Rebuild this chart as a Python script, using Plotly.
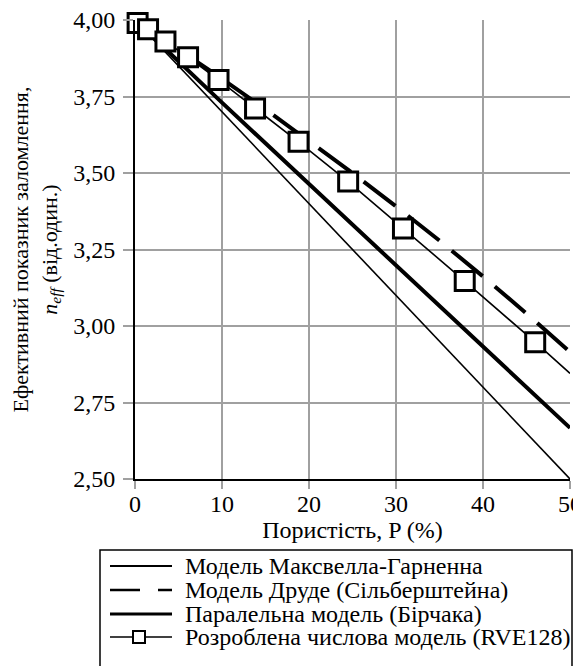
import plotly.graph_objects as go

# Porosity grid for model curves (%)
P = [0, 5, 10, 15, 20, 25, 30, 35, 40, 45, 50]
# Model curves
maxwell_garnett = [4.00, 3.85, 3.70, 3.55, 3.40, 3.25, 3.10, 2.95, 2.80, 2.65, 2.50]
drude = [4.00, 3.905, 3.808, 3.708, 3.606, 3.50, 3.391, 3.279, 3.162, 3.041, 2.915]
parallel = [4.00, 3.864, 3.730, 3.597, 3.464, 3.332, 3.200, 3.068, 2.935, 2.802, 2.667]

# Numerical model RVE128 (points)
P_rve = [0.3, 1.5, 3.5, 6.1, 9.6, 13.8, 18.8, 24.5, 30.8, 37.9, 46.0, 50.0]
n_rve = [3.99, 3.97, 3.93, 3.878, 3.804, 3.711, 3.602, 3.472, 3.319, 3.147, 2.947, 2.845]
rve_marker_size = [19] * 11 + [0]

names = [
    "Модель Максвелла-Гарненна",
    "Модель Друде (Сільберштейна)",
    "Паралельна модель (Бірчака)",
    "Розроблена числова модель (RVE128)",
]

x_ticks = [0, 10, 20, 30, 40, 50]
y_ticks = [2.50, 2.75, 3.00, 3.25, 3.50, 3.75, 4.00]

FONT = "Liberation Serif"
FS = 24

# figure is placed by the page with an 8px body margin
W, H = 573, 658
ML, MR, MT, MB = 127, 11, 12, 187
PW, PH = W - ML - MR, H - MT - MB


def px_x(fx):
    return (fx - ML) / PW


def px_y(fy):
    return (H - MB - fy) / PH


fig = go.Figure()
fig.add_trace(go.Scatter(x=P, y=maxwell_garnett, mode="lines", name=names[0],
                         line=dict(color="black", width=1.6)))
fig.add_trace(go.Scatter(x=P, y=drude, mode="lines", name=names[1],
                         line=dict(color="black", width=4, dash="40px,16px")))
fig.add_trace(go.Scatter(x=P, y=parallel, mode="lines", name=names[2],
                         line=dict(color="black", width=4)))
fig.add_trace(go.Scatter(x=P_rve, y=n_rve, mode="lines+markers", name=names[3],
                         cliponaxis=False,
                         line=dict(color="black", width=1.6),
                         marker=dict(symbol="square", size=rve_marker_size, color="white",
                                     opacity=1, line=dict(color="black", width=3))))

# ---- hand-made legend box (compact rows, as in the reference) ----
shapes = []
annotations = []
box_l, box_r, box_t, box_b = 92, 564, 542, 672
shapes.append(dict(type="rect", xref="paper", yref="paper",
                   x0=px_x(box_l), x1=px_x(box_r), y0=px_y(box_b), y1=px_y(box_t),
                   line=dict(color="black", width=1.5), fillcolor="white", layer="above"))
rows = [558, 582, 606, 629]
samp_l, samp_r = 102, 164
styles = [dict(width=1.8), dict(width=2.5, dash="30px,18px"), dict(width=2.8), dict(width=1.6)]
for i, (ry, st) in enumerate(zip(rows, styles)):
    shapes.append(dict(type="line", xref="paper", yref="paper",
                       x0=px_x(samp_l), x1=px_x(samp_r), y0=px_y(ry), y1=px_y(ry),
                       line=dict(color="black", **st), layer="above"))
    annotations.append(dict(xref="paper", yref="paper", x=px_x(175), y=px_y(ry),
                            xanchor="left", yanchor="middle", showarrow=False,
                            text=names[i], font=dict(family=FONT, size=FS, color="black")))
sq_c, sq_h = 131, 6
shapes.append(dict(type="rect", xref="paper", yref="paper",
                   x0=px_x(sq_c - sq_h), x1=px_x(sq_c + sq_h),
                   y0=px_y(rows[3] + sq_h), y1=px_y(rows[3] - sq_h),
                   line=dict(color="black", width=2), fillcolor="white", layer="above"))

fig.update_layout(
    width=W, height=H,
    margin=dict(l=ML, r=MR, t=MT, b=MB),
    paper_bgcolor="white", plot_bgcolor="white",
    separators=",.",
    font=dict(family=FONT, size=FS, color="black"),
    showlegend=False,
    shapes=shapes,
    annotations=annotations,
)
fig.update_xaxes(
    range=[0, 50], tickvals=x_ticks, ticktext=[str(v) for v in x_ticks],
    showgrid=True, gridcolor="#a0a0a0", gridwidth=1.5,
    showline=True, linecolor="black", linewidth=2,
    ticks="outside", ticklen=8, tickcolor="#a0a0a0", tickwidth=1.5,
    zeroline=False, automargin=False, ticklabeloverflow="allow", ticklabelstandoff=-6,
    tickfont=dict(family=FONT, size=FS),
    title=dict(text="Пористість, P (%)", font=dict(family=FONT, size=FS), standoff=4),
)
fig.update_yaxes(
    range=[2.5, 4.0], tickvals=y_ticks, tickformat=".2f",
    showgrid=True, gridcolor="#a0a0a0", gridwidth=1.5,
    showline=True, linecolor="black", linewidth=2,
    ticks="outside", ticklen=10, tickcolor="#a0a0a0", tickwidth=1.5,
    zeroline=False, automargin=False, ticklabelstandoff=3, ticklabeloverflow="allow",
    tickfont=dict(family=FONT, size=FS),
    title=dict(text="Ефективний показник заломлення,<br><i>n<sub>eff</sub></i> (від.один.)",
               font=dict(family=FONT, size=22), standoff=15),
)

fig.write_html("out.html")
